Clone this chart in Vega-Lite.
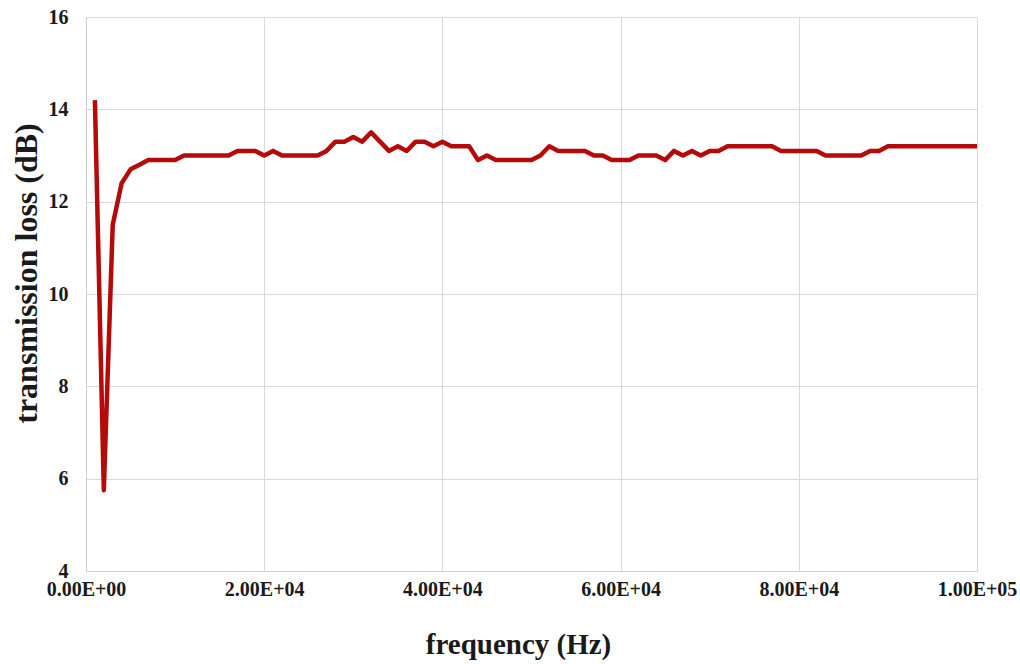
{
  "$schema": "https://vega.github.io/schema/vega-lite/v6.json",
  "width": 891,
  "height": 554,
  "autosize": {"type": "none"},
  "padding": {"left": 86, "top": 17, "right": 43, "bottom": 93},
  "background": "white",
  "config": {"view": {"stroke": null}},
  "data": {"values": [
    {"f": 1000, "tl": 14.2}, {"f": 2000, "tl": 5.75}, {"f": 3000, "tl": 11.5}, {"f": 4000, "tl": 12.4},
    {"f": 5000, "tl": 12.7}, {"f": 6000, "tl": 12.8}, {"f": 7000, "tl": 12.9}, {"f": 8000, "tl": 12.9},
    {"f": 9000, "tl": 12.9}, {"f": 10000, "tl": 12.9}, {"f": 11000, "tl": 13.0}, {"f": 12000, "tl": 13.0},
    {"f": 13000, "tl": 13.0}, {"f": 14000, "tl": 13.0}, {"f": 15000, "tl": 13.0}, {"f": 16000, "tl": 13.0},
    {"f": 17000, "tl": 13.1}, {"f": 18000, "tl": 13.1}, {"f": 19000, "tl": 13.1}, {"f": 20000, "tl": 13.0},
    {"f": 21000, "tl": 13.1}, {"f": 22000, "tl": 13.0}, {"f": 23000, "tl": 13.0}, {"f": 24000, "tl": 13.0},
    {"f": 25000, "tl": 13.0}, {"f": 26000, "tl": 13.0}, {"f": 27000, "tl": 13.1}, {"f": 28000, "tl": 13.3},
    {"f": 29000, "tl": 13.3}, {"f": 30000, "tl": 13.4}, {"f": 31000, "tl": 13.3}, {"f": 32000, "tl": 13.5},
    {"f": 33000, "tl": 13.3}, {"f": 34000, "tl": 13.1}, {"f": 35000, "tl": 13.2}, {"f": 36000, "tl": 13.1},
    {"f": 37000, "tl": 13.3}, {"f": 38000, "tl": 13.3}, {"f": 39000, "tl": 13.2}, {"f": 40000, "tl": 13.3},
    {"f": 41000, "tl": 13.2}, {"f": 42000, "tl": 13.2}, {"f": 43000, "tl": 13.2}, {"f": 44000, "tl": 12.9},
    {"f": 45000, "tl": 13.0}, {"f": 46000, "tl": 12.9}, {"f": 47000, "tl": 12.9}, {"f": 48000, "tl": 12.9},
    {"f": 49000, "tl": 12.9}, {"f": 50000, "tl": 12.9}, {"f": 51000, "tl": 13.0}, {"f": 52000, "tl": 13.2},
    {"f": 53000, "tl": 13.1}, {"f": 54000, "tl": 13.1}, {"f": 55000, "tl": 13.1}, {"f": 56000, "tl": 13.1},
    {"f": 57000, "tl": 13.0}, {"f": 58000, "tl": 13.0}, {"f": 59000, "tl": 12.9}, {"f": 60000, "tl": 12.9},
    {"f": 61000, "tl": 12.9}, {"f": 62000, "tl": 13.0}, {"f": 63000, "tl": 13.0}, {"f": 64000, "tl": 13.0},
    {"f": 65000, "tl": 12.9}, {"f": 66000, "tl": 13.1}, {"f": 67000, "tl": 13.0}, {"f": 68000, "tl": 13.1},
    {"f": 69000, "tl": 13.0}, {"f": 70000, "tl": 13.1}, {"f": 71000, "tl": 13.1}, {"f": 72000, "tl": 13.2},
    {"f": 73000, "tl": 13.2}, {"f": 74000, "tl": 13.2}, {"f": 75000, "tl": 13.2}, {"f": 76000, "tl": 13.2},
    {"f": 77000, "tl": 13.2}, {"f": 78000, "tl": 13.1}, {"f": 79000, "tl": 13.1}, {"f": 80000, "tl": 13.1},
    {"f": 81000, "tl": 13.1}, {"f": 82000, "tl": 13.1}, {"f": 83000, "tl": 13.0}, {"f": 84000, "tl": 13.0},
    {"f": 85000, "tl": 13.0}, {"f": 86000, "tl": 13.0}, {"f": 87000, "tl": 13.0}, {"f": 88000, "tl": 13.1},
    {"f": 89000, "tl": 13.1}, {"f": 90000, "tl": 13.2}, {"f": 91000, "tl": 13.2}, {"f": 92000, "tl": 13.2},
    {"f": 93000, "tl": 13.2}, {"f": 94000, "tl": 13.2}, {"f": 95000, "tl": 13.2}, {"f": 96000, "tl": 13.2},
    {"f": 97000, "tl": 13.2}, {"f": 98000, "tl": 13.2}, {"f": 99000, "tl": 13.2}, {"f": 100000, "tl": 13.2}
  ]},
  "mark": {"type": "line", "color": "#b40a0a", "strokeWidth": 4.5, "strokeJoin": "round", "strokeCap": "butt"},
  "encoding": {
    "x": {
      "field": "f", "type": "quantitative",
      "scale": {"domain": [0, 100000], "nice": false, "zero": false},
      "axis": {
        "title": "frequency (Hz)",
        "values": [0, 20000, 40000, 60000, 80000, 100000],
        "labelExpr": "datum.value == 0 ? '0.00E+00' : (datum.value >= 100000 ? format(datum.value/100000, '.2f') + 'E+05' : format(datum.value/10000, '.2f') + 'E+04')",
        "labelFont": "Liberation Serif", "labelFontWeight": "bold", "labelFontSize": 20, "labelColor": "#1a1a1a",
        "labelPadding": 8, "ticks": false,
        "labelFlush": false, "labelOverlap": false,
        "domainColor": "#d0d0d0", "domainWidth": 1,
        "grid": true, "gridColor": "#d9d9d9", "gridWidth": 1,
        "titleFont": "Liberation Serif", "titleFontWeight": "bold", "titleFontSize": 29, "titleColor": "#1a1a1a",
        "titlePadding": 31, "titleX": 432
      }
    },
    "y": {
      "field": "tl", "type": "quantitative",
      "scale": {"domain": [4, 16], "nice": false, "zero": false},
      "axis": {
        "title": "transmission loss (dB)",
        "values": [4, 6, 8, 10, 12, 14, 16],
        "labelFont": "Liberation Serif", "labelFontWeight": "bold", "labelFontSize": 20, "labelColor": "#1a1a1a",
        "labelPadding": 18, "ticks": false,
        "labelFlush": false, "labelOverlap": false,
        "domainColor": "#d0d0d0", "domainWidth": 1,
        "grid": true, "gridColor": "#d9d9d9", "gridWidth": 1,
        "titleFont": "Liberation Serif", "titleFontWeight": "bold", "titleFontSize": 32, "titleColor": "#1a1a1a",
        "titlePadding": 5, "titleY": 256
      }
    }
  }
}
